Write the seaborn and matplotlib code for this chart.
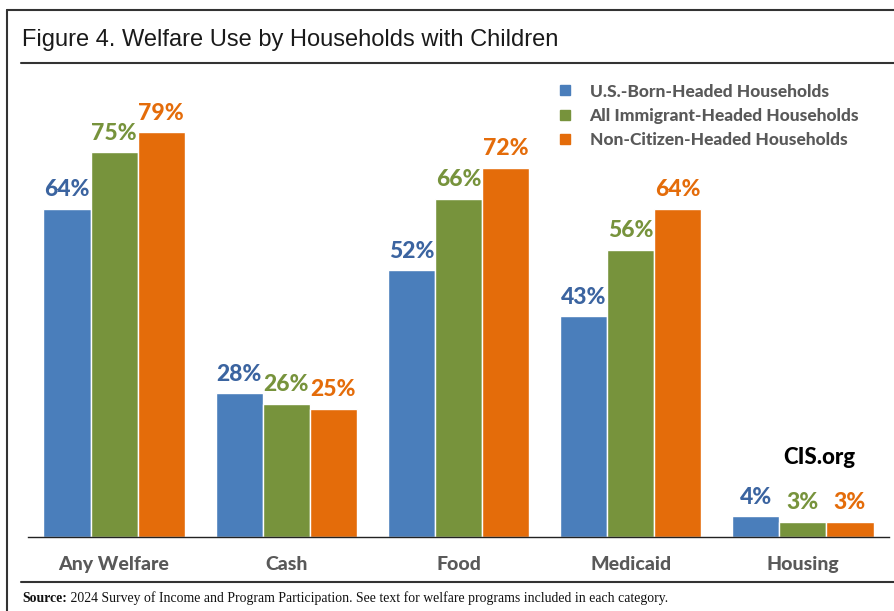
import matplotlib
matplotlib.use("Agg")
import matplotlib.pyplot as plt
import matplotlib.lines as mlines
import seaborn as sns
import pandas as pd

# Data
categories = ["Any Welfare", "Cash", "Food", "Medicaid", "Housing"]
groups = ["U.S.-Born-Headed Households",
          "All Immigrant-Headed Households",
          "Non-Citizen-Headed Households"]
us_born = [64, 28, 52, 43, 4]
all_immigrant = [75, 26, 66, 56, 3]
non_citizen = [79, 25, 72, 64, 3]

bar_colors = ["#4a7ebb", "#77933c", "#e46c0a"]
label_colors = ["#3b64a0", "#77933c", "#e46c0a"]
text_gray = "#595959"
heavy = 900

rows = []
for g, vals in zip(groups, [us_born, all_immigrant, non_citizen]):
    for c, v in zip(categories, vals):
        rows.append({"Category": c, "Group": g, "Share": v})
df = pd.DataFrame(rows)

sns.set_theme(style="white")
plt.rcParams["font.family"] = ["Lato", "DejaVu Sans"]

fig = plt.figure(figsize=(8.95, 6.11), dpi=100)
ax = fig.add_axes([28 / 895, 1 - 537 / 611, (889 - 28) / 895, 459 / 611])

sns.barplot(data=df, x="Category", y="Share", hue="Group",
            order=categories, hue_order=groups, palette=bar_colors,
            width=0.82, edgecolor="white", linewidth=1.0,
            saturation=1, ax=ax, legend=True)

ax.set_xlim(-0.5, 4.5)
ax.set_ylim(0, 89.5)
ax.set_xlabel("")
ax.set_ylabel("")
ax.set_yticks([])
for s in ["top", "right", "left"]:
    ax.spines[s].set_visible(False)
ax.spines["bottom"].set_color("#222222")
ax.spines["bottom"].set_linewidth(1.0)

# Category labels centred, tick marks at category boundaries
ax.set_xticks(range(len(categories)))
ax.set_xticklabels(categories, fontsize=14, fontweight=heavy, color=text_gray)
ax.tick_params(axis="x", which="major", length=0, pad=14)
ax.set_xticks([i - 0.5 for i in range(len(categories) + 1)], minor=True)
ax.tick_params(axis="x", which="minor", length=8, width=1.0,
               color="#222222", direction="out")

# Value labels
for cont, col in zip(ax.containers, label_colors):
    ax.bar_label(cont, labels=[f"{v:.0f}%" for v in cont.datavalues],
                 padding=6, fontsize=16.5, fontweight=heavy, color=col)

# Legend
handles = [plt.Line2D([], [], marker="s", linestyle="", markersize=7,
                      markerfacecolor=c, markeredgecolor=c) for c in bar_colors]
ax.legend(handles, groups, loc="upper left",
          bbox_to_anchor=(541 / 861 - 28 / 861, 1.022), frameon=False,
          prop={"weight": heavy, "size": 12.5}, labelcolor=text_gray,
          handletextpad=0.9, labelspacing=0.48, handlelength=1.0)

# Watermark
fig.text(783 / 895, 1 - 458 / 611, "CIS.org", fontsize=16,
         fontweight=heavy, color="black", ha="left", va="center")

# Title
fig.text(22 / 895, 1 - 40 / 611, "Figure 4. Welfare Use by Households with Children",
         fontsize=17, family=["Liberation Sans Narrow", "Liberation Sans"],
         color="#1a1a1a", ha="left", va="center")

# Frame and rules
frame_col = "#333333"
fig.add_artist(mlines.Line2D([7 / 895, 7 / 895], [0, 1 - 10 / 611],
                             transform=fig.transFigure, color=frame_col, lw=1.5))
fig.add_artist(mlines.Line2D([7 / 895, 1], [1 - 10 / 611, 1 - 10 / 611],
                             transform=fig.transFigure, color=frame_col, lw=1.5))
fig.add_artist(mlines.Line2D([21 / 895, 1], [1 - 63 / 611, 1 - 63 / 611],
                             transform=fig.transFigure, color=frame_col, lw=1.5))
fig.add_artist(mlines.Line2D([21 / 895, 1], [1 - 582 / 611, 1 - 582 / 611],
                             transform=fig.transFigure, color=frame_col, lw=1.5))

# Source note
serif = ["Liberation Serif", "DejaVu Serif"]
t1 = fig.text(22 / 895, 1 - 598 / 611, "Source:", fontsize=9.9,
              fontweight="bold", family=serif, color="#111111",
              ha="left", va="center")
ax.annotate(" 2024 Survey of Income and Program Participation. See text for welfare "
            "programs included in each category.",
            xy=(1, 0.5), xycoords=t1, ha="left", va="center",
            fontsize=9.9, family=serif, color="#111111", annotation_clip=False)

fig.savefig("out.png", dpi=100)
